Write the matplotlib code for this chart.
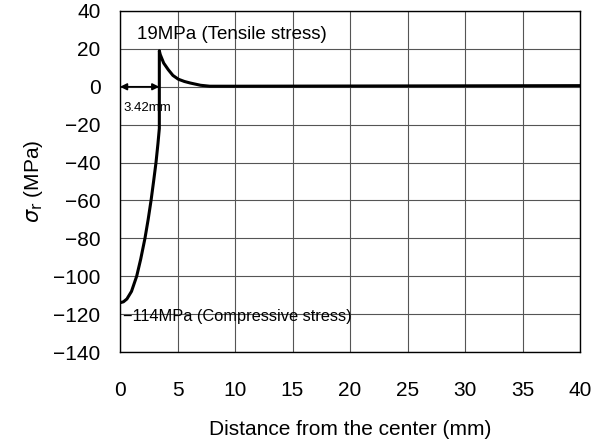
import matplotlib.pyplot as plt

# radial stress profile read along the radius
dist = [0.0, 0.3, 0.6, 1.0, 1.45, 1.8, 2.17, 2.45, 2.7, 2.92, 3.13, 3.3, 3.42, 3.42,
        3.5, 3.8, 4.2, 4.6, 5.07, 5.6, 6.1, 7.0, 7.8, 10, 20, 30, 40]
sigma = [-114, -113.5, -112, -108, -100, -91, -80, -70, -60, -50, -40, -30, -22, 19,
         17, 12.5, 9, 6, 4, 2.8, 2, 0.8, 0.3, 0.3, 0.4, 0.5, 0.6]

xticks = [0, 5, 10, 15, 20, 25, 30, 35, 40]
yticks = [40, 20, 0, -20, -40, -60, -80, -100, -120, -140]

plt.rcParams['font.family'] = ['Liberation Sans', 'DejaVu Sans']

fig = plt.figure(figsize=(6.02, 4.41), dpi=100)
ax = fig.add_axes([120 / 602, 89 / 441, 460 / 602, 341 / 441])

ax.plot(dist, sigma, color='black', linewidth=2.2, solid_joinstyle='round')

ax.set_xlim(0, 40)
ax.set_ylim(-140, 40)
ax.set_xticks(xticks)
ax.set_yticks(yticks)
ax.tick_params(length=0, labelsize=15)
ax.tick_params(axis='x', pad=21)
ax.tick_params(axis='y', pad=14)
ax.grid(True, color='#555555', linewidth=0.8)
for s in ax.spines.values():
    s.set_linewidth(1.0)

ax.set_xlabel('Distance from the center (mm)', fontsize=15, labelpad=14)
ax.set_ylabel(r'$\sigma$$_{\rm r}$ (MPa)', fontsize=15, labelpad=6)

ax.annotate('', xy=(0, 0), xytext=(3.42, 0),
            arrowprops=dict(arrowstyle='<|-|>', color='black', lw=1.2,
                            mutation_scale=10, shrinkA=0, shrinkB=0))
ax.text(0.3, -11, '3.42mm', fontsize=9.5, va='center', ha='left')
ax.text(1.45, 27.5, '19MPa (Tensile stress)', fontsize=13.5, va='center', ha='left')
ax.text(0.25, -121, '\u2212114MPa (Compressive stress)', fontsize=11.8, va='center', ha='left')

fig.savefig('out.png', dpi=100)
